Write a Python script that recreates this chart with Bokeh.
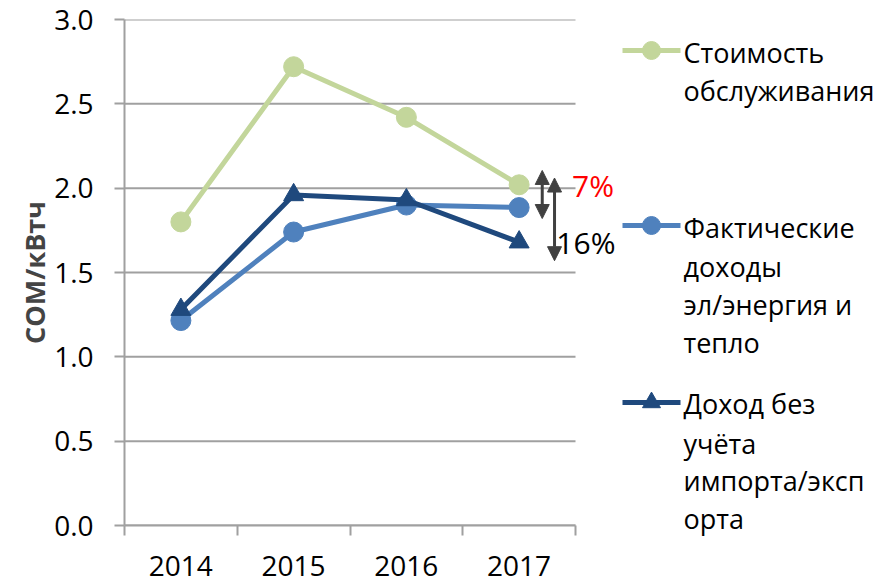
from bokeh.plotting import figure
from bokeh.models import Range1d, FixedTicker, Label, Arrow, NormalHead, PrintfTickFormatter, LinearAxis
from bokeh.embed import file_html
from bokeh.resources import INLINE

# ---- data ----
years = ["2014", "2015", "2016", "2017"]
xpos = [0, 1, 2, 3]
cost = [1.80, 2.72, 2.42, 2.02]          # Стоимость обслуживания
actual = [1.215, 1.74, 1.90, 1.885]      # Фактические доходы эл/энергия и тепло
no_import = [1.28, 1.96, 1.93, 1.68]     # Доход без учёта импорта/экспорта
yticks = [0, 0.5, 1.0, 1.5, 2.0, 2.5, 3.0]
legend_lines = [
    ["Стоимость", "обслуживания"],
    ["Фактические", "доходы", "эл/энергия и", "тепло"],
    ["Доход без", "учёта", "импорта/эксп", "орта"],
]

GREEN = "#C3D69B"
LBLUE = "#4F81BD"
DBLUE = "#1F497D"
GRID = "#A0A0A0"
FONT = "Open Sans"

# page-pixel layout of the frame
FL, FR, FT, FB = 124, 683, 19, 525
XMIN, XMAX = -0.5, 3.5
px_per_cat = (575 - FL) / 4.0
x_end = XMIN + (FR - FL) / px_per_cat

p = figure(width=891, height=582, x_range=Range1d(XMIN, x_end), y_range=Range1d(0, 3),
           output_backend="svg", toolbar_location=None,
           min_border_left=FL, min_border_right=891 - FR, min_border_top=FT, min_border_bottom=582 - FB)
p.outline_line_color = None
p.grid.visible = False
# screen-like ranges for the legend block
p.extra_x_ranges = {"leg": Range1d(FL, FR)}
p.extra_y_ranges = {"leg": Range1d(FB, FT)}

# horizontal gridlines limited to the category span
p.segment(x0=[XMIN] * len(yticks), y0=yticks, x1=[XMAX] * len(yticks), y1=yticks,
          line_color=GRID, line_width=2, level="underlay")

p.yaxis.ticker = FixedTicker(ticks=yticks)
p.yaxis.formatter = PrintfTickFormatter(format="%.1f")
p.yaxis.bounds = (0, 3)
p.yaxis.axis_label = "СОМ/кВтч"
p.yaxis.axis_label_text_font = FONT
p.yaxis.axis_label_text_font_style = "bold"
p.yaxis.axis_label_text_font_size = "27px"
p.yaxis.axis_label_standoff = -2
p.yaxis.major_tick_out = 10
p.yaxis.major_tick_in = 0
p.yaxis.minor_tick_line_color = None
p.yaxis.major_label_standoff = 21

p.xaxis.ticker = FixedTicker(ticks=xpos, minor_ticks=[-0.5, 0.5, 1.5, 2.5, 3.5])
p.xaxis.bounds = (XMIN, XMAX)
p.xaxis.major_label_overrides = {i: y for i, y in zip(xpos, years)}
p.xaxis.major_tick_out = 0
p.xaxis.major_tick_in = 0
p.xaxis.minor_tick_out = 10
p.xaxis.minor_tick_in = 0
p.xaxis.major_label_standoff = 20

for ax in (p.xaxis[0], p.yaxis[0]):
    ax.axis_line_color = GRID
    ax.axis_line_width = 2
    ax.major_tick_line_color = GRID
    ax.major_tick_line_width = 2
    ax.minor_tick_line_width = 2
    ax.major_label_text_font = FONT
    ax.major_label_text_font_size = "28px"
    ax.major_label_text_color = "black"
p.xaxis.minor_tick_line_color = GRID

p.line(xpos, cost, line_color=GREEN, line_width=5)
p.scatter(xpos, cost, marker="circle", size=20, fill_color=GREEN, line_color=GREEN)
p.line(xpos, actual, line_color=LBLUE, line_width=5)
p.scatter(xpos, actual, marker="circle", size=20, fill_color=LBLUE, line_color=LBLUE)
p.line(xpos, no_import, line_color=DBLUE, line_width=5)
p.scatter(xpos, no_import, marker="triangle", size=20, fill_color=DBLUE, line_color=DBLUE)

ARROW = "#404040"
def head():
    return NormalHead(size=14, fill_color=ARROW, line_color=ARROW)

p.add_layout(Arrow(start=head(), end=head(), x_start=3.205, y_start=1.82, x_end=3.205, y_end=2.105,
                   line_color=ARROW, line_width=3))
p.add_layout(Arrow(start=head(), end=head(), x_start=3.314, y_start=1.57, x_end=3.314, y_end=2.06,
                   line_color=ARROW, line_width=3))
p.add_layout(Label(x=3.47, y=2.016, text="7%", text_color="red", text_font=FONT,
                   text_font_size="30px", text_baseline="middle", text_align="left"))
p.add_layout(Label(x=3.33, y=1.678, text="16%", text_color="black", text_font=FONT,
                   text_font_size="30px", text_baseline="middle", text_align="left"))

# ---- legend: samples inside the frame, texts as right-axis labels ----
entry_y = [50, 225, 402]
line_y = [[52, 90], [227, 266, 304, 342], [403, 443, 480, 518]]
colors = [GREEN, LBLUE, DBLUE]
markers = ["circle", "circle", "triangle"]
overrides = {}
ticks = []
for y0, c, m, ys, lines in zip(entry_y, colors, markers, line_y, legend_lines):
    p.segment(x0=[622], y0=[y0], x1=[680], y1=[y0], line_color=c, line_width=5,
              x_range_name="leg", y_range_name="leg")
    p.scatter([651], [y0], marker=m, size=18, fill_color=c, line_color=c,
              x_range_name="leg", y_range_name="leg")
    for yy, t in zip(ys, lines):
        ticks.append(yy)
        overrides[yy] = t

lax = LinearAxis(y_range_name="leg", ticker=FixedTicker(ticks=ticks), major_label_overrides=overrides,
                 axis_line_color=None, major_tick_line_color=None, minor_tick_line_color=None,
                 major_tick_out=0, major_tick_in=0, major_label_standoff=0,
                 major_label_text_font=FONT, major_label_text_font_size="27px",
                 major_label_text_color="black")
p.add_layout(lax, "right")

open("out.html", "w").write(file_html(p, INLINE))
